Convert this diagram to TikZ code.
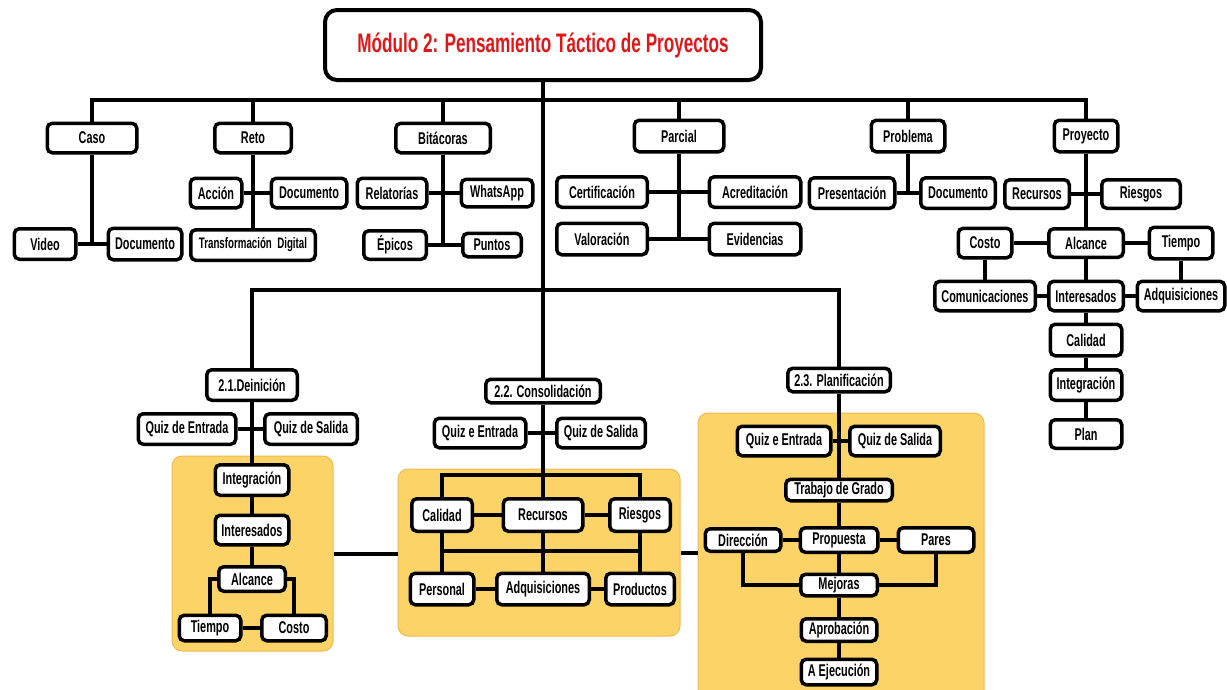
\documentclass[tikz,border=0pt]{standalone}
\usepackage{fontspec}
\newfontfamily\nar{Liberation Sans}[FakeStretch=0.64]
\definecolor{panelY}{RGB}{252,211,102}
\definecolor{panelB}{RGB}{236,188,86}
\definecolor{titleR}{RGB}{222,24,24}
\tikzset{
  bx/.style={draw, line width=3.5pt, rounded corners=5pt, fill=white, inner sep=0pt,
    font=\nar\bfseries\fontsize{17}{19}\selectfont},
  ln/.style={line width=4pt},
  panel/.style={draw=panelB, line width=1pt, fill=panelY, rounded corners=10pt, inner sep=0pt},
}
\newcommand{\bxn}[6]{\node[bx, minimum width=#4pt-3.5pt, minimum height=#5pt-3.5pt] (#1) at (#2,#3) {#6};}
\begin{document}
\begin{tikzpicture}[x=1pt,y=-1pt]
\useasboundingbox (0,0) rectangle (1227,689);
% panels
\node[panel, minimum width=161pt, minimum height=195pt] (pan1) at (252.5,553.5) {};
\node[panel, minimum width=282pt, minimum height=167pt] (pan2) at (539,552.5) {};
\node[panel, minimum width=286pt, minimum height=290pt] (pan3) at (841,558) {};
% title
\node[draw, line width=4pt, rounded corners=12pt, fill=white, minimum width=436pt, minimum height=70pt,
  font=\nar\bfseries\fontsize{26.8}{30}\selectfont, text=titleR] (title) at (543,45) {Módulo 2: Pensamiento Táctico de Proyectos};
% level 1
\bxn{caso}{92}{138}{93}{33}{Caso}
\bxn{reto}{253}{138}{80}{33}{Reto}
\bxn{bit}{443}{138}{98}{33}{Bitácoras}
\bxn{parc}{679}{136}{93}{35}{Parcial}
\bxn{prob}{908}{136}{77}{35}{Problema}
\bxn{proy}{1086}{136}{67}{35}{Proyecto}
% level 2
\bxn{video}{45}{244}{65}{34}{Video}
\bxn{casodoc}{145}{244}{77}{35}{Documento}
\bxn{accion}{216}{193}{55}{33}{Acción}
\bxn{retodoc}{309}{193}{79}{33}{Documento}
\node[bx, minimum width=124.5pt, minimum height=30.5pt, font=\nar\bfseries\fontsize{15.2}{17}\selectfont] (trans) at (253,245) {Transformación\ \ Digital};
\bxn{relat}{392}{193}{73}{33}{Relatorías}
\bxn{whats}{497}{193}{75}{31}{WhatsApp}
\bxn{epicos}{395}{245}{66}{32}{Épicos}
\bxn{puntos}{492}{245}{62}{27}{Puntos}
\bxn{certif}{602}{192}{94}{34}{Certificación}
\bxn{acred}{755}{192}{95}{34}{Acreditación}
\bxn{valor}{602}{239}{94}{35}{Valoración}
\bxn{evid}{755}{239}{95}{35}{Evidencias}
\bxn{present}{852}{193}{89}{34}{Presentación}
\bxn{probdoc}{958}{193}{78}{34}{Documento}
\bxn{recur}{1037}{194}{68}{32}{Recursos}
\bxn{riesg}{1141}{194}{82}{32}{Riesgos}
\bxn{costo}{985}{243}{57}{33}{Costo}
\bxn{alc}{1086}{243}{78}{32}{Alcance}
\bxn{tiempo}{1181}{243}{67}{35}{Tiempo}
\bxn{comun}{985}{296}{104}{33}{Comunicaciones}
\bxn{inter}{1086}{296}{78}{33}{Interesados}
\bxn{adq}{1181}{296}{91}{33}{Adquisiciones}
\bxn{cal}{1086}{340}{75}{35}{Calidad}
\bxn{integ}{1086}{385}{75}{34}{Integración}
\bxn{plan}{1086}{434}{75}{32}{Plan}
% 2.1
\bxn{d21}{252}{385}{94}{34}{2.1.Deinición}
\bxn{q21a}{187}{429}{101}{34}{Quiz de Entrada}
\bxn{q21b}{311}{429}{96}{34}{Quiz de Salida}
\bxn{int21}{252}{480}{77}{34}{Integración}
\bxn{inter21}{252}{530}{77}{33}{Interesados}
\bxn{alc21}{252}{579}{70}{28}{Alcance}
\bxn{tiem21}{210}{628}{65}{29}{Tiempo}
\bxn{cost21}{294}{628}{68}{29}{Costo}
% 2.2
\bxn{c22}{543}{391}{118}{27}{2.2. Consolidación}
\bxn{q22a}{480}{433}{95}{33}{Quiz e Entrada}
\bxn{q22b}{601}{433}{92}{33}{Quiz de Salida}
\bxn{cal22}{442}{515}{64}{36}{Calidad}
\bxn{rec22}{543}{515}{83}{36}{Recursos}
\bxn{rie22}{640}{515}{64}{36}{Riesgos}
\bxn{pers22}{442}{589}{67}{35}{Personal}
\bxn{adq22}{543}{589}{96}{35}{Adquisiciones}
\bxn{prod22}{640}{589}{72}{35}{Productos}
% 2.3
\bxn{p23}{839}{380}{106}{27}{2.3. Planificación}
\bxn{q23a}{784}{441}{97}{33}{Quiz e Entrada}
\bxn{q23b}{895}{441}{94}{33}{Quiz de Salida}
\bxn{trab}{839}{490}{110}{25}{Trabajo de Grado}
\bxn{dir}{743}{540}{79}{26}{Dirección}
\bxn{prop}{839}{540}{81}{28}{Propuesta}
\bxn{pares}{936}{540}{79}{28}{Pares}
\bxn{mej}{839}{585}{80}{25}{Mejoras}
\bxn{apro}{839}{630}{79}{26}{Aprobación}
\bxn{ejec}{839}{672}{79}{29}{A Ejecución}
% connectors top
\coordinate (bar) at (543,100);
\coordinate (mid) at (543,290);
\draw[ln] (title) -- (c22);
\draw[ln] (caso) |- (bar) -| (proy);
\draw[ln] (reto) -- (reto |- bar);
\draw[ln] (bit) -- (bit |- bar);
\draw[ln] (parc) -- (parc |- bar);
\draw[ln] (prob) -- (prob |- bar);
\draw[ln] (caso) -- (caso |- video);
\draw[ln] (video) -- (casodoc);
\draw[ln] (reto) -- (trans);
\draw[ln] (accion) -- (retodoc);
\draw[ln] (bit) -- (bit |- epicos);
\draw[ln] (relat) -- (whats);
\draw[ln] (epicos) -- (puntos);
\draw[ln] (parc) -- (parc |- valor);
\draw[ln] (certif) -- (acred);
\draw[ln] (valor) -- (evid);
\draw[ln] (prob) -- (prob |- present);
\draw[ln] (present) -- (probdoc);
\draw[ln] (proy) -- (alc);
\draw[ln] (recur) -- (riesg);
\draw[ln] (costo) -- (alc);
\draw[ln] (alc) -- (tiempo);
\draw[ln] (costo) -- (comun);
\draw[ln] (alc) -- (inter);
\draw[ln] (tiempo) -- (adq);
\draw[ln] (comun) -- (inter);
\draw[ln] (inter) -- (adq);
\draw[ln] (inter) -- (cal);
\draw[ln] (cal) -- (integ);
\draw[ln] (integ) -- (plan);
% lower
\draw[ln] (d21) |- (mid) -| (p23);
\draw[ln] (d21) -- (int21);
\draw[ln] (q21a) -- (q21b);
\draw[ln] (int21) -- (inter21);
\draw[ln] (inter21) -- (alc21);
\draw[ln] (alc21) -| (tiem21);
\draw[ln] (alc21) -| (cost21);
\draw[ln] (tiem21) -- (cost21);
\coordinate (t22) at (543,475);
\coordinate (b22) at (543,551);
\draw[ln] (c22) -- (rec22);
\draw[ln] (q22a) -- (q22b);
\draw[ln] (cal22) |- (t22) -| (rie22);
\draw[ln] (cal22) -- (rec22);
\draw[ln] (rec22) -- (rie22);
\draw[ln] (cal22) -- (pers22);
\draw[ln] (rec22) -- (adq22);
\draw[ln] (rie22) -- (prod22);
\draw[ln] (cal22 |- b22) -- (rie22 |- b22);
\draw[ln] (pers22) -- (adq22);
\draw[ln] (adq22) -- (prod22);
\draw[ln] (pan1.east) -- (pan2.west |- pan1.east);
\draw[ln] (pan2.east) -- (pan3.west |- pan2.east);
\draw[ln] (p23) -- (trab);
\draw[ln] (q23a) -- (q23b);
\draw[ln] (trab) -- (prop);
\draw[ln] (prop) -- (mej);
\draw[ln] (mej) -- (apro);
\draw[ln] (apro) -- (ejec);
\draw[ln] (dir) -- (prop);
\draw[ln] (prop) -- (pares);
\draw[ln] (dir) |- (mej);
\draw[ln] (pares) |- (mej);
\end{tikzpicture}
\end{document}
